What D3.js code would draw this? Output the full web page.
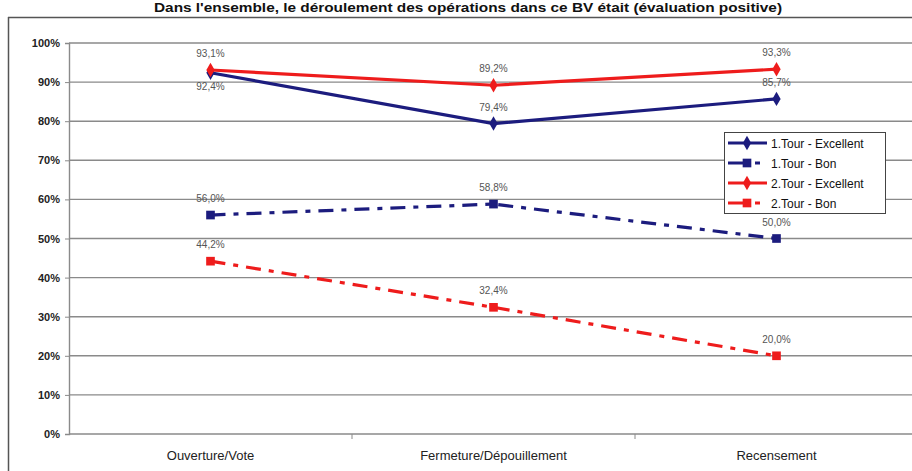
<!DOCTYPE html>
<html><head><meta charset="utf-8">
<script src="https://cdn.jsdelivr.net/npm/d3@7"></script>
<style>body{margin:0;background:#fff}svg{display:block}</style>
</head><body><svg id="c" width="912" height="471"></svg>
<script>
const title = "Dans l'ensemble, le déroulement des opérations dans ce BV était (évaluation positive)";
const categories = ["Ouverture/Vote", "Fermeture/Dépouillement", "Recensement"];
const yTicks = [0,10,20,30,40,50,60,70,80,90,100];
const seriesNames = ["1.Tour - Excellent", "1.Tour - Bon", "2.Tour - Excellent", "2.Tour - Bon"];
const t1Excellent = [92.4, 79.4, 85.7];
const t1Bon = [56.0, 58.8, 50.0];
const t2Excellent = [93.1, 89.2, 93.3];
const t2Bon = [44.2, 32.4, 20.0];
const labelText = [["92,4%","79,4%","85,7%"],["56,0%","58,8%","50,0%"],["93,1%","89,2%","93,3%"],["44,2%","32,4%","20,0%"]];

const series = [
  {name: seriesNames[0], values: t1Excellent, color:"#1c1c7e", dash:null, marker:"diamond", labels: labelText[0], below:[true,false,false]},
  {name: seriesNames[1], values: t1Bon, color:"#1c1c7e", dash:"15,8,5,8", marker:"square", labels: labelText[1], below:[false,false,false]},
  {name: seriesNames[2], values: t2Excellent, color:"#ee1c1c", dash:null, marker:"diamond", labels: labelText[2], below:[false,false,false]},
  {name: seriesNames[3], values: t2Bon, color:"#ee1c1c", dash:"15,8,5,8", marker:"square", labels: labelText[3], below:[false,false,false]}
];

const svg = d3.select("#c");
const x = d3.scaleBand().domain(categories).range([69, 918]);
const y = d3.scaleLinear().domain([0,100]).range([434, 43]);

// outer frame
svg.append("line").attr("x1",8.5).attr("x2",8.5).attr("y1",17).attr("y2",471).attr("stroke","#555").attr("stroke-width",1.5);
svg.append("line").attr("x1",8).attr("x2",912).attr("y1",17.5).attr("y2",17.5).attr("stroke","#555").attr("stroke-width",1.5);

// title
svg.append("text").attr("x",468).attr("y",12).attr("text-anchor","middle")
  .attr("font-family","Liberation Sans, Arial, sans-serif").attr("font-weight","bold").attr("font-size",12)
  .attr("textLength",628).attr("lengthAdjust","spacingAndGlyphs")
  .attr("fill","#111").text(title);

// gridlines
svg.append("g").selectAll("line").data(yTicks).join("line")
  .attr("x1",69).attr("x2",912).attr("y1",d=>y(d)).attr("y2",d=>y(d))
  .attr("stroke","#8a8a8a").attr("stroke-width",1.4);

// y axis
const ya = svg.append("g").attr("transform","translate(69,0)")
  .call(d3.axisLeft(y).tickValues(yTicks).tickFormat(d=>d+"%").tickSize(4).tickPadding(5));
ya.select(".domain").attr("stroke","#8a8a8a").attr("stroke-width",1.4);
ya.selectAll(".tick line").attr("stroke","#8a8a8a");
ya.selectAll("text").attr("font-family","Liberation Sans, Arial, sans-serif").attr("font-size",11).attr("font-weight","bold").attr("fill","#222");

// x axis
const xa = svg.append("g").attr("transform","translate(0,434)")
  .call(d3.axisBottom(x).tickSize(0).tickPadding(17));
xa.select(".domain").remove();
xa.selectAll("text").attr("font-family","Liberation Sans, Arial, sans-serif").attr("font-size",13).attr("fill","#222");
const bounds = [1,2].map(i => x(categories[i]));
svg.append("g").selectAll("line").data(bounds).join("line")
  .attr("x1",d=>d).attr("x2",d=>d).attr("y1",434).attr("y2",439).attr("stroke","#8a8a8a");

const cx = c => x(c) + x.bandwidth()/2;
const line = d3.line().x((d,i)=>cx(categories[i])).y(d=>y(d));
const diamond = d3.symbol().type(d3.symbolDiamond).size(60);
const square = d3.symbol().type(d3.symbolSquare).size(75);

// draw order: bottom series first
[3,1,0,2].forEach(k => {
  const s = series[k];
  const g = svg.append("g");
  g.append("path").datum(s.values).attr("d",line).attr("fill","none")
    .attr("stroke",s.color).attr("stroke-width",3.2)
    .attr("stroke-dasharray",s.dash);
  g.selectAll("path.m").data(s.values).join("path").attr("class","m")
    .attr("transform",(d,i)=>`translate(${cx(categories[i])},${y(d)})`)
    .attr("d", s.marker==="diamond"?diamond:square).attr("fill",s.color);
});

// data labels
series.forEach(s => {
  svg.append("g").selectAll("text").data(s.values).join("text")
    .attr("x",(d,i)=>cx(categories[i]))
    .attr("y",(d,i)=> s.below[i] ? y(d)+17 : y(d)-13)
    .attr("text-anchor","middle").attr("font-family","Liberation Sans, Arial, sans-serif")
    .attr("font-size",10).attr("fill","#555").text((d,i)=>s.labels[i]);
});

// legend
const lg = svg.append("g");
lg.append("rect").attr("x",724.5).attr("y",132.5).attr("width",161).attr("height",81)
  .attr("fill","#fff").attr("stroke","#444").attr("stroke-width",1);
series.forEach((s,i) => {
  const yy = 143 + i*20;
  lg.append("line").attr("x1",728).attr("x2",767).attr("y1",yy).attr("y2",yy)
    .attr("stroke",s.color).attr("stroke-width",3.2).attr("stroke-dasharray", s.dash ? "21,6,5,20" : null);
  lg.append("path").attr("transform",`translate(747,${yy})`)
    .attr("d", s.marker==="diamond"?diamond:square).attr("fill",s.color);
  lg.append("text").attr("x",771).attr("y",yy+4.5).attr("font-family","Liberation Sans, Arial, sans-serif")
    .attr("font-size",12).attr("fill","#111").text(s.name);
});
</script></body></html>
